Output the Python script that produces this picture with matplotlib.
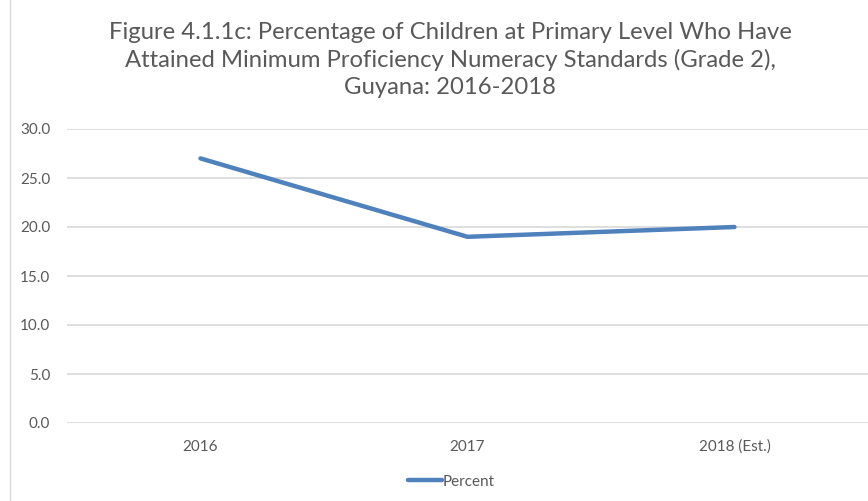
import matplotlib.pyplot as plt
from matplotlib.lines import Line2D

# Data
years = ['2016', '2017', '2018 (Est.)']
percent = [27.0, 19.0, 20.0]
y_ticks = [0, 5, 10, 15, 20, 25, 30]

plt.rcParams['font.family'] = ['Lato', 'DejaVu Sans']

fig = plt.figure(figsize=(8.68, 5.01), dpi=100)
ax = fig.add_axes([67 / 868, 1 - 423 / 501, 801 / 868, 294 / 501])

x = list(range(len(years)))
ax.plot(x, percent, color='#4F81BD', linewidth=3.2, solid_capstyle='round',
        label='Percent', zorder=3)

ax.set_xlim(-0.5, len(years) - 0.5)
ax.set_ylim(0, 30)
ax.set_yticks(y_ticks)
ax.set_yticklabels([f'{v:.1f}' for v in y_ticks])
ax.set_xticks(x)
ax.set_xticklabels(years)
ax.grid(axis='y', color='#D9D9D9', linewidth=1.2)
ax.set_axisbelow(True)
for s in ax.spines.values():
    s.set_visible(False)
ax.tick_params(length=0, labelsize=11, colors='#595959', pad=12)
ax.tick_params(axis='x', pad=12)

fig.text(450 / 868, 1 - 60 / 501,
         'Figure 4.1.1c: Percentage of Children at Primary Level Who Have\n'
         'Attained Minimum Proficiency Numeracy Standards (Grade 2),\n'
         'Guyana: 2016-2018',
         ha='center', va='center', fontsize=17.2, color='#595959',
         linespacing=1.36)

# left chart border
fig.add_artist(Line2D([10 / 868, 10 / 868], [0, 1], color='#D9D9D9', linewidth=1))

ax.legend(loc='center', bbox_to_anchor=(0.48, -0.2), frameon=False,
          fontsize=11, labelcolor='#595959', handlelength=2.2,
          handletextpad=0.1)

fig.savefig('out.png', dpi=100)
